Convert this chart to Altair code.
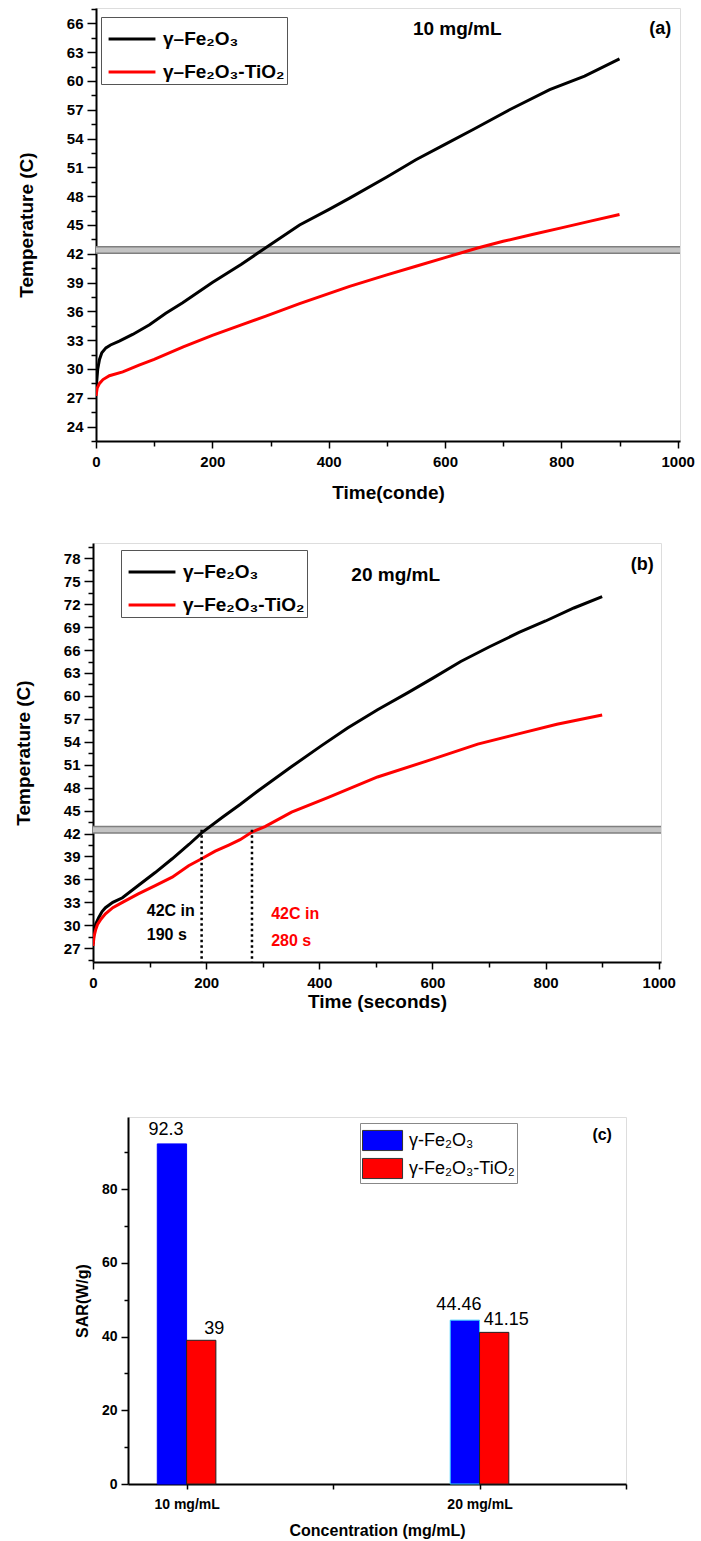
import altair as alt
import pandas as pd

# ---------------- data ----------------
names_line = ["γ–Fe₂O₃", "γ–Fe₂O₃-TiO₂"]
line_colors = ["#000000", "#ff0000"]

# panel (a) 10 mg/mL
a_fe_t = [0, 3, 6, 10, 17, 25, 40, 63, 92, 120, 149, 200, 250, 286, 350, 400, 436, 500, 550, 600, 650, 711, 780, 840, 900]
a_fe_T = [27.8, 30.0, 31.0, 31.7, 32.2, 32.5, 32.9, 33.6, 34.6, 35.8, 36.9, 39.0, 40.9, 42.4, 45.0, 46.6, 47.8, 50.0, 51.8, 53.4, 55.0, 57.0, 59.1, 60.5, 62.3]
a_ti_t = [0, 2, 6, 12, 23, 46, 74, 100, 150, 200, 250, 292, 350, 436, 500, 550, 600, 656, 700, 750, 800, 850, 900]
a_ti_T = [27.2, 28.0, 28.5, 28.9, 29.3, 29.7, 30.4, 31.0, 32.3, 33.5, 34.6, 35.5, 36.8, 38.6, 39.8, 40.7, 41.6, 42.6, 43.3, 44.0, 44.7, 45.4, 46.1]

# panel (b) 20 mg/mL
b_fe_t = [0, 2, 5, 10, 16, 22, 35, 52, 80, 110, 140, 170, 192, 230, 260, 292, 350, 404, 450, 503, 556, 600, 650, 700, 753, 800, 850, 900]
b_fe_T = [27.6, 29.2, 30.2, 31.0, 31.8, 32.3, 33.0, 33.6, 35.2, 36.9, 38.7, 40.6, 42.1, 44.2, 45.8, 47.6, 50.7, 53.5, 55.8, 58.2, 60.4, 62.3, 64.5, 66.4, 68.3, 69.8, 71.5, 73.0]
b_ti_t = [0, 2, 5, 8, 14, 22, 35, 52, 80, 110, 140, 169, 192, 216, 240, 260, 281, 304, 351, 415, 503, 591, 680, 750, 820, 900]
b_ti_T = [27.3, 28.6, 29.5, 30.1, 30.8, 31.5, 32.3, 33.0, 34.1, 35.2, 36.3, 37.8, 38.7, 39.7, 40.5, 41.2, 42.2, 42.9, 44.8, 46.7, 49.4, 51.5, 53.7, 55.0, 56.3, 57.5]

threshold_a = 42.4
threshold_b = 42.5
reach_times = [192, 281]
reach_text = [["42C in", "190 s"], ["42C in", "280 s"]]

# panel (c)
conc_labels = ["10 mg/mL", "20 mg/mL"]
conc_pos = [1, 2]
names_bar = ["γ-Fe₂O₃", "γ-Fe₂O₃-TiO₂"]
bar_colors = ["#0000ff", "#ff0000"]
sar_fe = [92.3, 44.46]
sar_ti = [39, 41.15]

FONT = "Liberation Sans"

# ---------------- helpers ----------------
def line_df(t1, T1, t2, T2):
    d1 = pd.DataFrame({"t": t1, "T": T1, "series": names_line[0], "o": range(len(t1))})
    d2 = pd.DataFrame({"t": t2, "T": T2, "series": names_line[1], "o": range(len(t2))})
    return pd.concat([d1, d2], ignore_index=True)


def spacer(w):
    return alt.Chart(pd.DataFrame({"v": [0]})).mark_rect(opacity=0).encode(
        x=alt.value(0), x2=alt.value(1), y=alt.value(0), y2=alt.value(1)).properties(
        width=w, height=10, view=alt.ViewBackground(strokeOpacity=0, fillOpacity=0))


def temp_panel(df, ydom, xtitle, xtitle_pad, legend_xy, thr, label, tag, label_xy, tag_xy):
    ymin, ymax = ydom
    yvals = []
    v = 22.5
    while v <= ymax:
        if v >= ymin:
            yvals.append(round(v, 2))
        v += 1.5
    xvals = list(range(0, 1001, 100))
    xaxis = alt.Axis(values=xvals, labelExpr="datum.value % 200 === 0 ? datum.label : ''",
                     format="d", grid=False, title=xtitle, titleFontSize=19, titleFont=FONT,
                     titleFontWeight="bold", titlePadding=xtitle_pad, labelFontSize=15, labelFont=FONT,
                     labelFontWeight="bold", labelPadding=6, labelColor="black",
                     tickSize={"condition": {"test": "datum.value % 200 === 0", "value": 7}, "value": 5},
                     tickColor="black", tickWidth=1.5, domainColor="black", domainWidth=2,
                     labelOverlap=False, labelFlush=False, titleColor="black")
    yaxis = alt.Axis(values=yvals, labelExpr="datum.value % 3 === 0 ? datum.label : ''",
                     format="d", grid=False, title="Temperature (C)", titleFontSize=19, titleFont=FONT,
                     titleFontWeight="bold", titlePadding=30, labelFontSize=15, labelFont=FONT,
                     labelFontWeight="bold", labelPadding=4, labelColor="black",
                     tickSize={"condition": {"test": "datum.value % 3 === 0", "value": 9}, "value": 5},
                     tickColor="black", tickWidth=1.5, domainColor="black", domainWidth=2,
                     labelOverlap=False, labelFlush=False, titleColor="black")
    xs = alt.Scale(domain=[0, 1004], nice=False, zero=False)
    ys = alt.Scale(domain=list(ydom), nice=False, zero=False)

    def X(f):
        return alt.X(f, scale=xs, axis=xaxis)

    def Y(f):
        return alt.Y(f, scale=ys, axis=yaxis)

    band_dark = alt.Chart(pd.DataFrame({"y": [thr]})).mark_rule(color="#7f7f7f", strokeWidth=8).encode(
        y=Y("y:Q"))
    band_light = alt.Chart(pd.DataFrame({"y": [thr]})).mark_rule(color="#c3c3c3", strokeWidth=5).encode(
        y=Y("y:Q"))
    lines = alt.Chart(df).mark_line(strokeWidth=3, clip=True).encode(
        x=X("t:Q"),
        y=Y("T:Q"),
        order="o:Q",
        color=alt.Color("series:N", scale=alt.Scale(domain=names_line, range=line_colors),
                        legend=alt.Legend(title=None, orient="none", legendX=legend_xy[0], legendY=legend_xy[1],
                                          symbolType="M-0.8,0H1.8", symbolStrokeWidth=3, symbolSize=1300,
                                          labelFont=FONT, labelFontSize=19, labelFontWeight="bold",
                                          labelColor="black", strokeColor="#555555", fillColor="white",
                                          padding=2, rowPadding=3, labelOffset=20, labelLimit=300)),
    )
    txt = alt.Chart(pd.DataFrame({"x": [label_xy[0]], "y": [label_xy[1]], "s": [label]})).mark_text(
        font=FONT, fontSize=19, fontWeight="bold", color="black", align="center", baseline="middle").encode(
        x=X("x:Q"), y=Y("y:Q"), text="s:N")
    tg = alt.Chart(pd.DataFrame({"x": [tag_xy[0]], "y": [tag_xy[1]], "s": [tag]})).mark_text(
        font=FONT, fontSize=18, fontWeight="bold", color="black", align="right", baseline="middle").encode(
        x=X("x:Q"), y=Y("y:Q"), text="s:N")
    return [band_dark, band_light, lines, txt, tg], X, Y


# ---------------- panel (a) ----------------
layers_a, Xa, Ya = temp_panel(line_df(a_fe_t, a_fe_T, a_ti_t, a_ti_T), (22.5, 67.6), "Time(conde)", 14,
                              (89, 9), threshold_a, "10 mg/mL", "(a)", (621, 65.4), (989, 65.4))
panel_a = alt.layer(*layers_a).properties(width=584, height=433)

# ---------------- panel (b) ----------------
layers_b, Xb, Yb = temp_panel(line_df(b_fe_t, b_fe_T, b_ti_t, b_ti_T), (25.2, 80.0), "Time (seconds)", 2,
                              (109, 7), threshold_b, "20 mg/mL", "(b)", (535, 75.8), (991, 77.1))
dots = alt.Chart(pd.DataFrame({"x": reach_times, "y": [threshold_b] * 2, "y2": [25.2] * 2})).mark_rule(
    color="black", strokeWidth=2.5, strokeDash=[2.5, 3]).encode(
    x=Xb("x:Q"), y=Yb("y:Q"), y2="y2:Q")
ann_rows = []
ann_x = [95, 315]
ann_y = [[31.85, 28.7], [31.5, 28.0]]
for i in range(2):
    for j in range(2):
        ann_rows.append({"x": ann_x[i], "y": ann_y[i][j], "s": reach_text[i][j], "c": line_colors[i]})
ann = alt.Chart(pd.DataFrame(ann_rows)).mark_text(font=FONT, fontSize=16, fontWeight="bold", align="left",
                                                 baseline="middle").encode(
    x=Xb("x:Q"), y=Yb("y:Q"), text="s:N", color=alt.Color("c:N", scale=None))
panel_b = alt.layer(*layers_b, dots, ann).properties(width=568, height=419)

# ---------------- panel (c) ----------------
bar_rows = []
for i, c in enumerate(conc_pos):
    bar_rows.append({"x0": c - 0.1, "x1": c, "v": sar_fe[i], "base": 0, "series": names_bar[0],
                     "st": "#0000ff" if i == 0 else "#33ccff"})
    bar_rows.append({"x0": c, "x1": c + 0.1, "v": sar_ti[i], "base": 0, "series": names_bar[1], "st": "#222222"})
bdf = pd.DataFrame(bar_rows)
xs_c = alt.Scale(domain=[0.8, 2.5], nice=False, zero=False)
ys_c = alt.Scale(domain=[0, 99.6], nice=False)
lab_expr = "datum.value === 1 ? '%s' : datum.value === 2 ? '%s' : ''" % (conc_labels[0], conc_labels[1])
xaxis_c = alt.Axis(values=[1, 1.5, 2, 2.5], labelExpr=lab_expr, grid=False, title="Concentration (mg/mL)",
                   titleFont=FONT, titleFontSize=16, titleFontWeight="bold", titleColor="black", titlePadding=11,
                   labelFont=FONT, labelFontSize=14, labelFontWeight="bold", labelColor="black", labelPadding=8,
                   tickSize=5, tickColor="black", tickWidth=1.5, domainColor="black", domainWidth=2,
                   labelOverlap=False, labelFlush=False)
yaxis_c = alt.Axis(values=list(range(0, 100, 10)),
                   labelExpr="datum.value % 20 === 0 ? datum.label : ''", grid=False, title="SAR(W/g)",
                   titleFont=FONT, titleFontSize=16, titleFontWeight="bold", titleColor="black", titlePadding=11,
                   labelFont=FONT, labelFontSize=14, labelFontWeight="bold", labelColor="black", labelPadding=4,
                   tickSize={"condition": {"test": "datum.value % 20 === 0", "value": 7}, "value": 4},
                   tickColor="black", tickWidth=1.5, domainColor="black", domainWidth=2,
                   labelOverlap=False, labelFlush=False)


def Xc(f):
    return alt.X(f, scale=xs_c, axis=xaxis_c)


def Yc(f):
    return alt.Y(f, scale=ys_c, axis=yaxis_c)


bars = alt.Chart(bdf).mark_bar(strokeWidth=1).encode(
    x=Xc("x0:Q"),
    x2="x1:Q",
    y=Yc("v:Q"),
    y2="base:Q",
    stroke=alt.Stroke("st:N", scale=None),
    color=alt.Color("series:N", scale=alt.Scale(domain=names_bar, range=bar_colors),
                    legend=alt.Legend(title=None, orient="none", legendX=348, legendY=6,
                                      symbolType="M-1,-0.67H1.67V0.67H-1Z", symbolSize=900,
                                      symbolStrokeColor="#333333", symbolStrokeWidth=1,
                                      labelFont=FONT, labelFontSize=18, labelColor="black",
                                      strokeColor="#888888", fillColor="white", padding=2,
                                      rowPadding=0, labelOffset=16, labelLimit=300)),
)
lab_specs = [
    (conc_pos[0] - 0.05, sar_fe[0], "92.3", -6, -14),
    (conc_pos[0] + 0.05, sar_ti[0], "39", 13, -11),
    (conc_pos[1] - 0.05, sar_fe[1], "44.46", -6, -15),
    (conc_pos[1] + 0.05, sar_ti[1], "41.15", 12, -12),
]
val_layers = []
for x, v, s, dx, dy in lab_specs:
    val_layers.append(alt.Chart(pd.DataFrame({"x": [x], "v": [v], "s": [s]})).mark_text(
        font=FONT, fontSize=18, color="black", dx=dx, dy=dy, baseline="middle").encode(
        x=Xc("x:Q"), y=Yc("v:Q"), text="s:N"))
tag_c = alt.Chart(pd.DataFrame({"x": [2.452], "y": [94.6], "s": ["(c)"]})).mark_text(
    font=FONT, fontSize=16, fontWeight="bold", color="black", align="right", baseline="middle").encode(
    x=Xc("x:Q"), y=Yc("y:Q"), text="s:N")
panel_c = alt.layer(bars, *val_layers, tag_c).properties(width=498, height=367)

row_a = alt.hconcat(spacer(4), panel_a, spacing=0)
row_b = alt.hconcat(spacer(1), panel_b, spacing=0)
row_c = alt.hconcat(spacer(61), panel_c, spacing=0)

top = alt.vconcat(row_a, row_b, spacing=36).resolve_scale(color="independent").resolve_legend(color="independent")
chart = alt.vconcat(top, row_c, spacing=104).resolve_scale(color="independent").resolve_legend(
    color="independent").properties(padding={"left": 12, "top": 1, "right": 0, "bottom": 0}).configure_view(
    stroke="black", strokeWidth=1.5).configure(background="white")

chart.save("out.html", embed_options={"renderer": "svg", "actions": False})
